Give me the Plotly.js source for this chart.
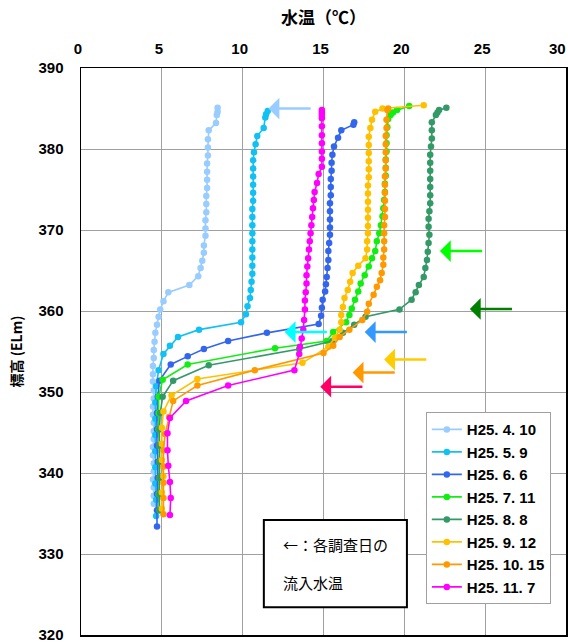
<!DOCTYPE html>
<html>
<head>
<meta charset="utf-8">
<script src="https://cdn.plot.ly/plotly-3.0.1.min.js"></script>
<style>
html,body{margin:0;padding:0;background:#fff;}
#chart{width:568px;height:644px;}
</style>
</head>
<body>
<div id="chart"></div>
<script>
// ---- data ----
const seriesNames = ['H25. 4. 10', 'H25. 5. 9', 'H25. 6. 6', 'H25. 7. 11', 'H25. 8. 8', 'H25. 9. 12', 'H25. 10. 15', 'H25. 11. 7'];

const xTickVals = [0, 5, 10, 15, 20, 25, 30];
const xTickText = ['0', '5', '10', '15', '20', '25', '30'];

const elevApr = [385.1, 384.6, 384.2, 383.2, 382.3, 381.2, 380.2, 379.2, 378.2, 377.2, 376.2, 375.2, 374.2, 373.2, 372.2, 371.2, 370.2, 369.3, 368.1, 367.2, 366.2, 365.3, 364.3, 363.2, 362.3, 361.2, 360.2, 359.3, 358.3, 357.3, 356.2, 355.2, 354.2, 353.2, 352.2, 351.3, 350.2, 349.2, 348.2, 347.2, 346.2, 345.2, 344.2, 343.2, 342.2, 341.2, 340.2, 339.2, 338.2, 337.2, 336.2];
const tempApr = [8.45, 8.45, 8.4, 8.35, 7.9, 7.85, 7.85, 7.85, 7.8, 7.8, 7.8, 7.8, 7.75, 7.75, 7.75, 7.7, 7.7, 7.7, 7.6, 7.6, 7.5, 7.4, 7.25, 6.7, 5.4, 5.1, 4.9, 4.8, 4.7, 4.6, 4.55, 4.5, 4.5, 4.45, 4.45, 4.45, 4.5, 4.5, 4.45, 4.45, 4.5, 4.5, 4.5, 4.45, 4.45, 4.5, 4.5, 4.45, 4.5, 4.5, 4.5];

const elevMay = [384.7, 384.3, 383.9, 382.6, 381.6, 380.6, 379.6, 378.6, 377.6, 376.6, 375.6, 374.6, 373.6, 372.6, 371.6, 370.6, 369.6, 368.6, 367.6, 366.6, 365.6, 364.6, 363.6, 362.6, 361.6, 360.6, 359.6, 358.6, 357.7, 356.8, 355.7, 354.7, 352.7, 350.7, 348.7, 346.7, 344.7, 342.7, 340.7, 338.7, 336.7, 334.7];
const tempMay = [11.55, 11.45, 11.4, 11.3, 10.9, 10.8, 10.7, 10.65, 10.65, 10.65, 10.65, 10.65, 10.65, 10.6, 10.6, 10.6, 10.6, 10.6, 10.6, 10.6, 10.6, 10.6, 10.55, 10.5, 10.45, 10.3, 10.2, 9.9, 7.3, 6.0, 5.5, 5.1, 4.8, 4.65, 4.6, 4.6, 4.6, 4.6, 4.6, 4.6, 4.65, 4.65];

const elevJun = [383.3, 383.0, 382.3, 381.4, 380.3, 379.3, 378.3, 377.3, 376.3, 375.3, 374.3, 373.3, 372.3, 371.3, 370.3, 369.4, 368.4, 367.4, 366.3, 365.3, 364.2, 363.3, 362.4, 361.4, 360.4, 359.4, 358.4, 357.3, 356.3, 355.3, 354.4, 353.4, 351.4, 349.4, 347.4, 345.4, 343.4, 341.4, 339.4, 337.4, 335.4, 333.4];
const tempJun = [16.9, 16.85, 16.1, 15.9, 15.65, 15.55, 15.5, 15.5, 15.45, 15.45, 15.45, 15.4, 15.4, 15.4, 15.4, 15.4, 15.35, 15.3, 15.3, 15.25, 15.2, 15.15, 15.1, 14.95, 14.9, 14.85, 14.7, 11.5, 9.1, 7.6, 6.6, 5.55, 4.85, 4.75, 4.7, 4.7, 4.7, 4.75, 4.75, 4.7, 4.7, 4.7];

const elevJul = [385.3, 384.8, 384.5, 384.2, 383.7, 382.7, 381.7, 380.7, 379.7, 378.7, 377.7, 376.7, 375.7, 374.7, 373.7, 372.7, 371.7, 370.6, 369.6, 368.6, 367.4, 366.5, 365.5, 364.4, 363.4, 362.4, 361.4, 360.3, 359.5, 358.6, 357.4, 356.3, 355.4, 353.4, 351.5, 349.4, 347.4, 345.4, 343.4, 341.4, 339.4, 337.4, 335.4];
const tempJul = [20.3, 19.55, 19.3, 19.15, 19.0, 18.95, 18.9, 18.9, 18.9, 18.85, 18.85, 18.85, 18.8, 18.8, 18.75, 18.7, 18.65, 18.55, 18.45, 18.3, 18.2, 18.0, 17.8, 17.55, 17.3, 17.15, 16.95, 16.75, 16.6, 16.4, 15.6, 15.2, 12.0, 6.6, 5.05, 4.8, 4.8, 4.8, 4.85, 4.85, 4.85, 4.8, 4.85];

const elevAug = [385.1, 384.8, 384.5, 384.2, 383.3, 382.3, 381.3, 380.3, 379.3, 378.3, 377.3, 376.3, 375.3, 374.3, 373.3, 372.3, 371.4, 370.4, 369.4, 368.4, 367.3, 366.3, 365.3, 364.2, 363.2, 362.3, 361.4, 360.2, 359.3, 358.3, 357.3, 356.3, 355.3, 353.3, 351.4, 349.4, 347.4, 345.4, 343.4, 341.4, 339.4, 337.4, 335.4];
const tempAug = [22.6, 22.15, 22.05, 21.95, 21.7, 21.7, 21.7, 21.65, 21.6, 21.6, 21.6, 21.6, 21.6, 21.6, 21.6, 21.55, 21.5, 21.5, 21.55, 21.5, 21.45, 21.4, 21.3, 21.2, 20.9, 20.7, 20.45, 19.7, 17.6, 16.9, 16.2, 15.55, 13.5, 7.9, 5.7, 5.05, 4.9, 4.85, 4.85, 4.85, 4.85, 4.85, 4.85];

const elevSep = [385.4, 385.0, 384.6, 383.6, 382.6, 381.5, 380.5, 379.5, 378.5, 377.5, 376.5, 375.5, 374.5, 373.5, 372.5, 371.5, 370.5, 369.6, 368.6, 367.6, 366.5, 365.6, 364.7, 363.6, 362.6, 361.6, 360.5, 359.5, 358.6, 357.7, 356.7, 355.6, 353.6, 351.6, 349.6, 347.6, 345.6, 343.6, 341.6, 339.6, 337.6, 335.6];
const tempSep = [21.2, 18.65, 18.2, 18.0, 17.9, 17.8, 17.8, 17.8, 17.8, 17.8, 17.8, 17.75, 17.75, 17.75, 17.75, 17.75, 17.75, 17.75, 17.7, 17.7, 17.6, 17.15, 16.8, 16.65, 16.5, 16.3, 16.2, 16.1, 16.1, 16.0, 15.7, 15.3, 13.7, 7.2, 5.6, 5.1, 5.0, 5.0, 5.0, 5.1, 5.0, 5.0];

const elevOct = [385.0, 384.8, 383.6, 382.6, 381.6, 380.6, 379.6, 378.6, 377.6, 376.6, 375.6, 374.6, 373.6, 372.6, 371.6, 370.6, 369.6, 368.6, 367.6, 366.6, 365.7, 364.7, 363.8, 363.0, 362.0, 360.9, 359.9, 358.9, 357.7, 356.8, 355.7, 354.8, 352.7, 350.8, 348.9, 346.9, 344.8, 342.8, 340.8, 338.8, 336.9, 334.9];
const tempOct = [19.0, 18.95, 18.9, 18.9, 18.85, 18.85, 18.85, 18.85, 18.85, 18.8, 18.8, 18.8, 18.8, 18.8, 18.8, 18.75, 18.75, 18.75, 18.75, 18.7, 18.7, 18.6, 18.5, 18.3, 18.1, 17.8, 17.7, 17.4, 16.6, 16.0, 15.6, 15.0, 10.75, 7.2, 5.7, 5.45, 5.2, 5.1, 5.1, 5.1, 5.1, 5.1];

const elevNov = [384.8, 384.5, 384.2, 383.8, 382.8, 381.7, 380.7, 379.7, 378.8, 377.8, 376.9, 375.8, 374.7, 373.7, 372.7, 371.6, 370.6, 369.6, 368.6, 367.6, 366.5, 365.5, 364.4, 363.4, 362.3, 361.3, 360.2, 358.9, 357.7, 356.6, 355.6, 354.7, 352.7, 350.8, 348.9, 346.8, 344.9, 342.8, 340.9, 338.9, 336.9, 334.8];
const tempNov = [14.9, 14.9, 14.9, 14.9, 14.9, 14.9, 14.9, 14.9, 14.9, 14.9, 14.7, 14.6, 14.45, 14.4, 14.35, 14.3, 14.25, 14.2, 14.15, 14.1, 14.05, 14.0, 13.95, 13.95, 13.9, 13.85, 13.85, 13.8, 13.75, 13.65, 13.55, 13.5, 13.2, 9.1, 6.5, 5.5, 5.35, 5.35, 5.4, 5.5, 5.55, 5.5];

// inflow water temperature on each survey day (arrow tips) and elevation of arrow
const inflowTemp = [11.6, 12.6, 17.55, 22.2, 24.05, 18.75, 16.8, 14.8];
const inflowElev = [385.0, 357.4, 357.4, 367.4, 360.25, 354.0, 352.4, 350.65];

// ---- styles ----
const seriesColors = ['#99CCFF', '#11C1F3', '#3366EE', '#11EE11', '#339966', '#FFC000', '#FF9900', '#FF00FF'];
const arrowColors  = ['#99CCFF', '#00FFFF', '#3399FF', '#00FF00', '#008000', '#FFCC00', '#FF9900', '#FF0066'];
const arrowLen = 2.7;

const temps = [tempApr, tempMay, tempJun, tempJul, tempAug, tempSep, tempOct, tempNov];
const elevs = [elevApr, elevMay, elevJun, elevJul, elevAug, elevSep, elevOct, elevNov];

const sans = 'Liberation Sans, Arial, sans-serif';
const cjk = 'Noto Sans CJK JP, Noto Sans, sans-serif';
const tickFont = {family: sans, size: 15, color: '#000', weight: 'bold'};

const traces = seriesNames.map((n, i) => ({
  type: 'scatter',
  mode: 'lines+markers',
  name: n,
  x: temps[i],
  y: elevs[i],
  line: {color: seriesColors[i], width: 1.6},
  marker: {color: seriesColors[i], size: 6.5}
}));

const arrows = inflowTemp.map((t, i) => ({
  x: t, y: inflowElev[i], xref: 'x', yref: 'y',
  ax: t + arrowLen, ay: inflowElev[i], axref: 'x', ayref: 'y',
  showarrow: true, arrowhead: 1, arrowsize: 1.45, arrowwidth: 2.5,
  arrowcolor: arrowColors[i], text: '', standoff: 0, startstandoff: 0
}));

// the last top tick label sits at the page edge: draw it right-aligned so it stays whole
const lastIdx = xTickVals.length - 1;
const shownTickText = xTickText.map((t, i) => i === lastIdx ? '' : t);
const edgeTick = {
  xref: 'x', yref: 'paper', x: xTickVals[lastIdx], y: 1, xanchor: 'right', yanchor: 'middle',
  xshift: 2, yshift: 20, text: xTickText[lastIdx], showarrow: false, font: tickFont
};

const notes = [
  {xref: 'paper', yref: 'paper', x: 0.413, y: 0.159, xanchor: 'left', yanchor: 'middle',
   text: '←：各調査日の', showarrow: false, font: {family: cjk, size: 15, color: '#000'}},
  {xref: 'paper', yref: 'paper', x: 0.413, y: 0.092, xanchor: 'left', yanchor: 'middle',
   text: '流入水温', showarrow: false, font: {family: cjk, size: 15, color: '#000'}},
  edgeTick
];

const layout = {
  width: 568, height: 644,
  margin: {l: 81, r: 2, t: 68, b: 9, pad: 0},
  paper_bgcolor: '#fff', plot_bgcolor: '#fff',
  showlegend: true,
  legend: {
    x: 0.711, y: 0.393, xanchor: 'left', yanchor: 'top',
    bgcolor: '#fff', bordercolor: '#A0A0A0', borderwidth: 1,
    font: {family: sans, size: 15, color: '#000', weight: 'bold'},
    tracegroupgap: 0
  },
  xaxis: {
    side: 'top', range: [0, 30], tickmode: 'array', tickvals: xTickVals, ticktext: shownTickText,
    showgrid: true, gridcolor: '#A0A0A0', gridwidth: 1,
    zeroline: false, showline: true, linecolor: '#000', linewidth: 1.5, mirror: true,
    ticks: '', ticklabelstandoff: 7, ticklabelshift: -3,
    tickfont: tickFont,
    title: {text: '水温（℃）', standoff: 10, font: {family: cjk, size: 17, color: '#000', weight: 'bold'}},
    automargin: false
  },
  yaxis: {
    range: [320, 390], dtick: 10, tick0: 320,
    showgrid: true, gridcolor: '#A0A0A0', gridwidth: 1,
    zeroline: false, showline: true, linecolor: '#000', linewidth: 1.5, mirror: true,
    ticks: '', ticklabelstandoff: 13, ticklabeloverflow: 'allow',
    tickfont: tickFont,
    title: {text: '標高 (ELm)', standoff: 12, font: {family: cjk, size: 14, color: '#000', weight: 'bold'}},
    automargin: false
  },
  shapes: [{
    type: 'rect', xref: 'paper', yref: 'paper', layer: 'above',
    x0: 0.377, x1: 0.672, y0: 0.049, y1: 0.203,
    line: {color: '#000', width: 2}, fillcolor: 'rgba(255,255,255,1)'
  }],
  annotations: arrows.concat(notes)
};

Plotly.newPlot('chart', traces, layout, {displayModeBar: false, staticPlot: true});
</script>
</body>
</html>
